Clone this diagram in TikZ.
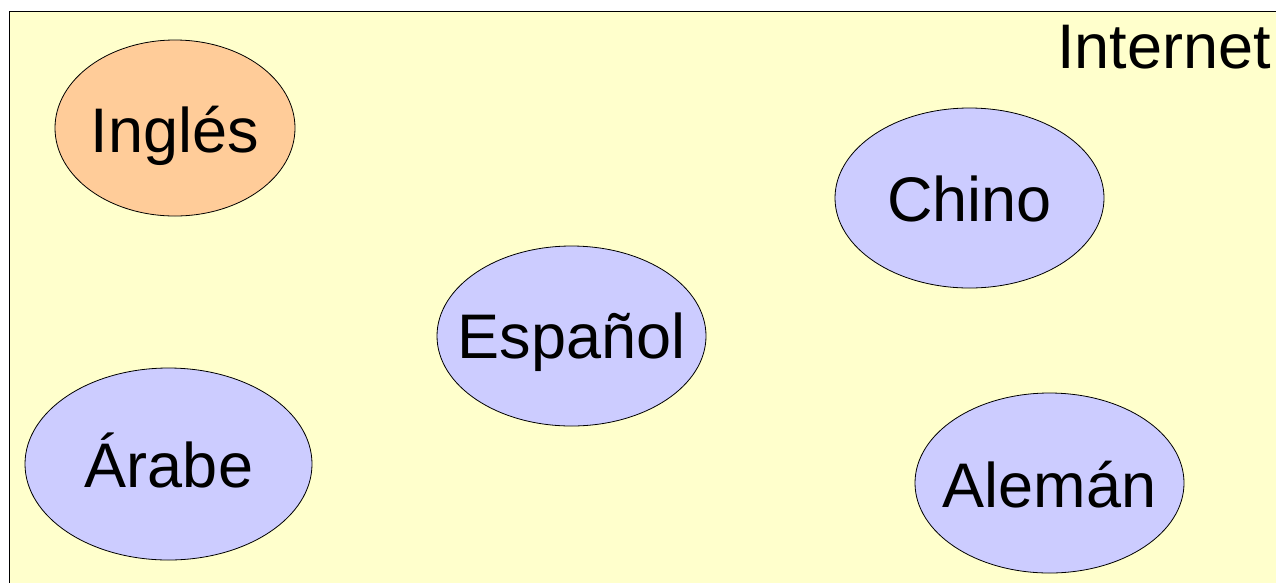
\documentclass[tikz,border=0pt]{standalone}
\usepackage{fontspec}
\setmainfont{Liberation Sans}
\usetikzlibrary{shapes.geometric}
\definecolor{bgyellow}{HTML}{FFFFCC}
\definecolor{orangefill}{HTML}{FFCC99}
\definecolor{bluefill}{HTML}{CCCCFF}
\tikzset{
  lang/.style={ellipse, draw=black, line width=0.8pt, inner sep=0pt, outer sep=0pt},
  other/.style={lang, fill=bluefill},
  first/.style={lang, fill=orangefill},
  word/.style={anchor=base, inner sep=0pt, font=\fontsize{63}{75}\selectfont}
}
\begin{document}
\begin{tikzpicture}[x=1pt,y=-1pt]
\useasboundingbox (0,0) rectangle (1276,582);
\clip (0,0) rectangle (1276,582);
\fill[white] (0,0) rectangle (1276,582);
\draw[fill=bgyellow, draw=black, line width=1.2pt] (9.5,11.5) rectangle (1300,610);
\node[word, anchor=base east] (internet) at (1271,68) {Internet};
\node[first, minimum width=240, minimum height=176] (ingles) at (175,128) {};
\node[other, minimum width=269, minimum height=180] (chino) at (969.5,198) {};
\node[other, minimum width=269, minimum height=180] (espanol) at (571.5,336) {};
\node[other, minimum width=287, minimum height=192] (arabe) at (168.5,464) {};
\node[other, minimum width=269, minimum height=180] (aleman) at (1049.5,483) {};
\node[word] (tingles) at (175,152) {Inglés};
\node[word] (tchino) at (969.5,221) {Chino};
\node[word] (tespanol) at (571.5,358) {Español};
\node[word] (tarabe) at (169,487) {Árabe};
\node[word] (taleman) at (1049.5,507) {Alemán};
\end{tikzpicture}
\end{document}
